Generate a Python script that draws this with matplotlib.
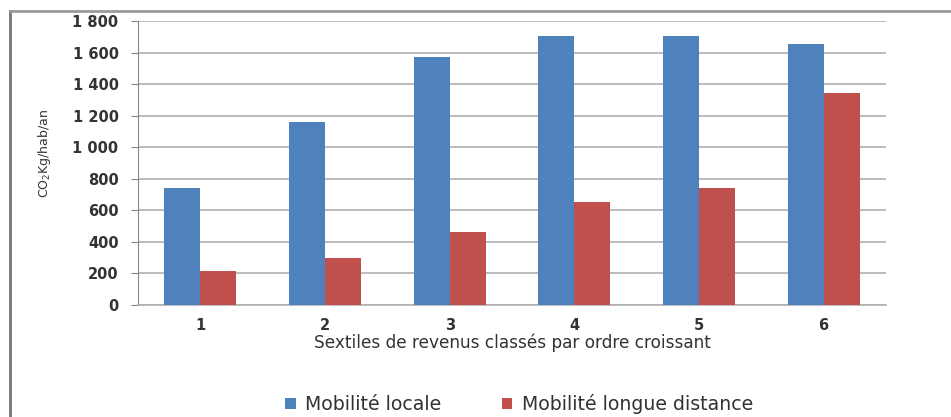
import matplotlib.pyplot as plt
from matplotlib.lines import Line2D
from matplotlib.ticker import FuncFormatter
import numpy as np

sextiles = ["1", "2", "3", "4", "5", "6"]
mobilite_locale = [741, 1160, 1572, 1705, 1705, 1654]
mobilite_longue = [215, 298, 463, 653, 741, 1344]
series_names = ["Mobilité locale", "Mobilité longue distance"]
y_ticks = [0, 200, 400, 600, 800, 1000, 1200, 1400, 1600, 1800]

BLUE = "#4f81bd"
RED = "#c0504d"
TEXT = "#333333"
GRID = "#b0b0b0"
W, H = 951, 417


def thousands(v, pos):
    return f"{int(v):,}".replace(",", " ")


def main():
    plt.rcParams['font.family'] = ['DejaVu Sans']
    fig = plt.figure(figsize=(W / 100, H / 100), dpi=100)
    ax = fig.add_axes([138 / W, (H - 305) / H, 748 / W, 284 / H])

    x = np.arange(len(sextiles))
    bw = 0.29
    b1 = ax.bar(x - bw / 2, mobilite_locale, bw, color=BLUE, zorder=3,
                label=series_names[0])
    b2 = ax.bar(x + bw / 2, mobilite_longue, bw, color=RED, zorder=3,
                label=series_names[1])

    ax.set_xlim(-0.5, len(sextiles) - 0.5)
    ax.set_ylim(0, 1800)
    ax.set_yticks(y_ticks)
    ax.yaxis.set_major_formatter(FuncFormatter(thousands))
    ax.set_xticks(x)
    ax.set_xticklabels(sextiles)
    ax.grid(axis='y', color=GRID, linewidth=1.2, zorder=0)

    for s in ['top', 'right']:
        ax.spines[s].set_visible(False)
    ax.spines['left'].set_color("#888888")
    ax.spines['bottom'].set_color(GRID)
    ax.spines['bottom'].set_linewidth(1.2)
    ax.tick_params(axis='y', length=5, color="#888888", labelsize=10.5,
                   labelcolor=TEXT, pad=9)
    ax.tick_params(axis='x', length=0, labelsize=10.5, labelcolor=TEXT,
                   pad=9)
    for t in ax.get_yticklabels() + ax.get_xticklabels():
        t.set_fontweight('bold')

    ax.set_xlabel("Sextiles de revenus classés par ordre croissant",
                  fontsize=12.2, color=TEXT, labelpad=1)
    ax.set_ylabel("CO$_2$Kg/hab/an", fontsize=9, color=TEXT)
    ax.yaxis.set_label_coords(-0.113, 0.535)

    fig.legend([b1, b2], series_names, loc='center',
               bbox_to_anchor=(519 / W, 1 - 404 / H), ncol=2, frameon=False,
               fontsize=13.6, handlelength=0.55, handleheight=0.55,
               handletextpad=0.5, columnspacing=3.2, labelcolor=TEXT)

    # frame around the chart
    fig.add_artist(Line2D([10 / W, 10 / W], [0, 1 - 11 / H],
                          transform=fig.transFigure, color="#777777", lw=2))
    fig.add_artist(Line2D([10 / W, 1], [1 - 11 / H, 1 - 11 / H],
                          transform=fig.transFigure, color="#999999", lw=2))

    fig.savefig("out.png", dpi=100)


if __name__ == "__main__":
    main()
